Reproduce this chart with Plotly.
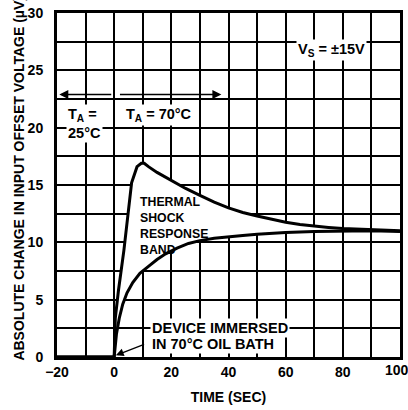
import plotly.graph_objects as go

# Data
upper_x = [-20, 0, 0.4, 1.5, 3.4, 5, 6.1, 8, 9.5, 10.5, 12, 15, 20, 25, 30, 35, 40, 45, 50, 55, 60, 65, 70, 75, 80, 85, 90, 95, 100]
upper_y = [0, 0, 3.4, 5.8, 9.3, 12.5, 15.2, 16.6, 16.9, 16.9, 16.6, 16.1, 15.4, 14.7, 14.1, 13.5, 13.0, 12.6, 12.3, 12.0, 11.75, 11.55, 11.4, 11.3, 11.2, 11.15, 11.1, 11.05, 11.0]

lower_x = [-20, 0, 0.8, 1.8, 3, 4.5, 6.5, 9, 12, 15, 18, 22, 26, 30, 35, 40, 45, 50, 55, 60, 70, 80, 90, 100]
lower_y = [0, 0, 2.0, 3.4, 4.6, 5.6, 6.5, 7.3, 7.9, 8.5, 9.0, 9.5, 9.9, 10.15, 10.35, 10.5, 10.6, 10.7, 10.8, 10.85, 10.95, 11.0, 11.0, 10.95]

x_tick_vals = [-20, 0, 20, 40, 60, 80]
x_tick_text = ["\u221220", "0", "20", "40", "60", "80"]
x_last_tick = 100
y_tick_vals = [0, 5, 10, 15, 20, 25, 30]

FONT = "Liberation Sans, Arial, Helvetica, sans-serif"

fig = go.Figure()
fig.add_trace(go.Scatter(x=lower_x, y=lower_y, mode="lines",
                         line=dict(color="black", width=3), hoverinfo="skip"))
fig.add_trace(go.Scatter(x=upper_x, y=upper_y, mode="lines", fill="tonexty",
                         fillcolor="white",
                         line=dict(color="black", width=3), hoverinfo="skip"))

ann = []
def txt(x, y, t, xanchor="left", bg="white", size=14.5):
    ann.append(dict(x=x, y=y, xref="x", yref="y", text=t, showarrow=False,
                    xanchor=xanchor, yanchor="middle", bgcolor=bg, borderpad=1,
                    align="left",
                    font=dict(family=FONT, size=size, color="black", weight=700)))

txt(76.2, 26.75, "V<sub>S</sub> = \u00b115V", xanchor="center")
txt(-16.8, 21.1, "T<sub>A</sub> =")
txt(-16.8, 19.5, "25\u00b0C")
txt(3.4, 21.1, "T<sub>A</sub> = 70\u00b0C")
txt(8.3, 11.4, "THERMAL<br>SHOCK<br>RESPONSE<br>BAND", bg=None, size=12.3)
txt(12.6, 2.5, "DEVICE IMMERSED")
txt(12.6, 1.15, "IN 70\u00b0C OIL BATH")

# last x tick label (partly cut by the page edge, as in the reference)
ann.append(dict(x=x_last_tick, y=0, xref="x", yref="y", text=str(x_last_tick),
                showarrow=False, xanchor="center", yanchor="top", yshift=-3, xshift=-3,
                font=dict(family=FONT, size=14, color="black", weight=700)))

# arrows
for (x0, x1) in [(-0.5, -19.2), (1.5, 37.5)]:
    ann.append(dict(x=x1, y=22.9, ax=x0, ay=22.9, xref="x", yref="y", axref="x", ayref="y",
                    text="", showarrow=True, arrowhead=2, arrowsize=1.2, arrowwidth=1.5,
                    arrowcolor="black"))
ann.append(dict(x=0.6, y=0.15, ax=11.0, ay=1.15, xref="x", yref="y", axref="x", ayref="y",
                text="", showarrow=True, arrowhead=2, arrowsize=1.2, arrowwidth=1.3,
                arrowcolor="black"))

# y axis title
ann.append(dict(x=-0.11, y=-0.017, xref="paper", yref="paper",
                text="ABSOLUTE CHANGE IN INPUT OFFSET VOLTAGE (\u00b5V)",
                textangle=-90, showarrow=False, xanchor="center", yanchor="bottom",
                font=dict(family=FONT, size=14, color="black", weight=700)))

fig.update_layout(
    width=408, height=410,
    margin=dict(l=57, r=5, t=12, b=53),
    plot_bgcolor="white", paper_bgcolor="white",
    showlegend=False,
    font=dict(family=FONT, size=14, color="black", weight=700),
    annotations=ann,
)
fig.update_xaxes(range=[-20, 100], tickvals=x_tick_vals, ticktext=x_tick_text,
                 showgrid=True, gridcolor="black", gridwidth=1.5,
                 minor=dict(dtick=10, tick0=0, showgrid=True, gridcolor="black", gridwidth=1.5),
                 showline=True, mirror=True, linecolor="black", linewidth=3,
                 ticks="", zeroline=False, ticklabelstandoff=0,
                 title=dict(text="TIME (SEC)", standoff=14,
                            font=dict(family=FONT, size=14, color="black", weight=700)))
fig.update_yaxes(range=[0, 30], tickvals=y_tick_vals,
                 showgrid=True, gridcolor="black", gridwidth=1.5,
                 minor=dict(dtick=2.5, tick0=0, showgrid=True, gridcolor="black", gridwidth=1.5),
                 showline=True, mirror=True, linecolor="black", linewidth=3,
                 ticks="", zeroline=False, ticklabelstandoff=8)

fig.write_html("out.html", config={"displayModeBar": False},
               post_script="document.body.style.margin='0';document.body.style.overflow='hidden';")
